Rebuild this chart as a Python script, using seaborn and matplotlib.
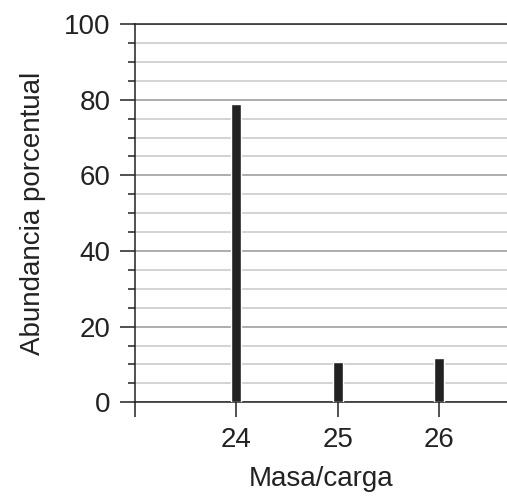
import matplotlib
matplotlib.use('Agg')
import matplotlib.pyplot as plt
import seaborn as sns
from matplotlib.ticker import MultipleLocator, FixedLocator

# datos
masa = [24, 25, 26]
abundancia = [78.8, 10.7, 11.6]
xticks = [23, 24, 25, 26]
xticklabels = ['', '24', '25', '26']

sns.set_style('white')
plt.rcParams['font.family'] = ['Liberation Sans', 'DejaVu Sans']

fig = plt.figure(figsize=(5.07, 5.01), dpi=100)
ax = fig.add_axes([0.2663, 0.197, 0.7337, 0.755])

sns.barplot(x=masa, y=abundancia, native_scale=True, width=0.1,
            color='#222222', saturation=1, ax=ax, zorder=3)

ax.set_xlim(23, 26.67)
ax.set_ylim(0, 100)

# rejilla
ax.yaxis.set_major_locator(MultipleLocator(20))
ax.yaxis.set_minor_locator(MultipleLocator(5))
ax.grid(which='minor', axis='y', color='#cccccc', linewidth=1.2, zorder=0)
ax.grid(which='major', axis='y', color='#a0a0a0', linewidth=1.2, zorder=0)
ax.grid(axis='x', visible=False)

ax.xaxis.set_major_locator(FixedLocator(xticks))
ax.set_xticklabels(xticklabels)

for s in ['left', 'bottom', 'top']:
    ax.spines[s].set_visible(True)
    ax.spines[s].set_color('#222222')
    ax.spines[s].set_linewidth(1.1)
ax.spines['right'].set_visible(False)

ax.tick_params(axis='both', which='major', direction='out', length=10.5,
               width=1.1, color='#222222', labelsize=20, pad=7,
               labelcolor='#222222', left=True, bottom=True)
ax.tick_params(axis='y', which='minor', direction='out', length=5,
               width=1.1, color='#222222', left=True)

ax.set_xlabel('Masa/carga', fontsize=20, color='#222222', labelpad=10)
ax.set_ylabel('Abundancia porcentual', fontsize=20, color='#222222', labelpad=13)

fig.savefig('out.png', dpi=100)
